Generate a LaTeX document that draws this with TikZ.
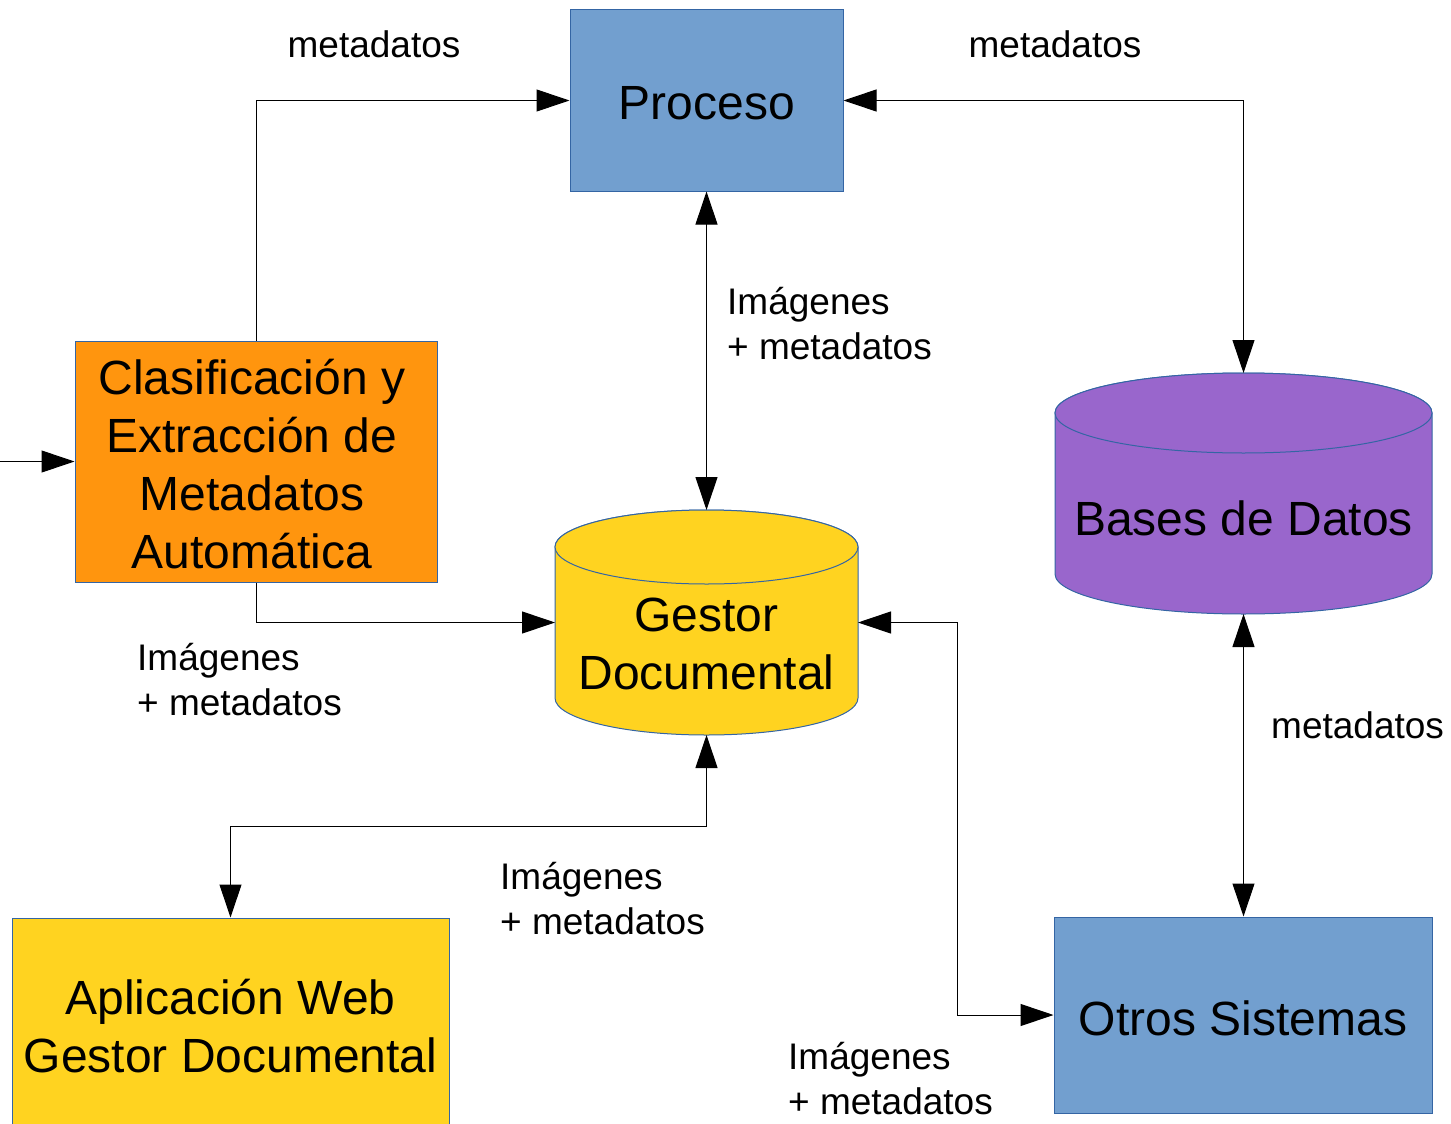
\documentclass[tikz,border=0pt]{standalone}
\usepackage{fontspec}
\setmainfont{Liberation Sans}
\usetikzlibrary{arrows.meta}
\definecolor{boxblue}{HTML}{729FCF}
\definecolor{boxedge}{HTML}{3465A4}
\definecolor{boxorange}{HTML}{FF950E}
\definecolor{boxyellow}{HTML}{FFD320}
\definecolor{boxpurple}{HTML}{9966CC}
\begin{document}
\begin{tikzpicture}[x=1pt,y=-1pt,
  box/.style={draw=boxedge, line width=1pt, inner sep=0pt, align=center,
    font=\fontsize{48}{58}\selectfont},
  ghost/.style={inner sep=0pt, outer sep=0pt},
  bigtext/.style={inner sep=0pt, align=center, font=\fontsize{48}{58}\selectfont},
  lbl/.style={inner sep=0pt, align=left, font=\fontsize{37}{45}\selectfont},
  conn/.style={line width=1pt, draw=black},
  onetip/.style={-{Triangle[length=33pt,width=22pt]}},
  twotips/.style={{Triangle[length=33pt,width=22pt]}-{Triangle[length=33pt,width=22pt]}},
  cyl/.style={draw=boxedge, line width=1pt}
]
\useasboundingbox (0,0) rectangle (1451,1124);
\clip (0,0) rectangle (1451,1124);

% Boxes
\node[box, fill=boxblue, minimum width=273pt, minimum height=181pt] (proceso) at (706.5,100.5) {};
\node[bigtext] (procesotxt) at (707,103) {Proceso};
\node[box, fill=boxorange, minimum width=362pt, minimum height=241pt] (clasif) at (256,461.5) {};
\node[bigtext] (clasiftxt) at (252,464.5) {Clasificación y\\Extracción de\\Metadatos\\Automática};
\node[box, fill=boxyellow, minimum width=437pt, minimum height=216pt] (aplic) at (230.5,1026) {Aplicación Web\\Gestor Documental};
\node[box, fill=boxblue, minimum width=378pt, minimum height=196pt] (otros) at (1243,1015) {};
\node[bigtext] (otrostxt) at (1243,1018) {Otros Sistemas};

% Gestor Documental cylinder
\node[ghost, minimum width=303pt, minimum height=225pt] (gestor) at (706.5,622.5) {};
\path[cyl, fill=boxyellow] (555,547) -- (555,698) arc (180:0:151.5 and 37) -- (858,547) arc (0:-180:151.5 and 37) -- cycle;
\path[cyl, fill=boxyellow] (706.5,547) ellipse (151.5 and 37);
\node[bigtext] (gestortxt) at (706.5,644) {Gestor\\Documental};

% Bases de Datos cylinder
\node[ghost, minimum width=377pt, minimum height=241pt] (bases) at (1243.5,493.5) {};
\path[cyl, fill=boxpurple] (1055,413) -- (1055,574) arc (180:0:188.5 and 40) -- (1432,413) arc (0:-180:188.5 and 40) -- cycle;
\path[cyl, fill=boxpurple] (1243.5,413) ellipse (188.5 and 40);
\node[bigtext] (basestxt) at (1243.5,518) {Bases de Datos};

% Helper coordinates
\coordinate (inp) at (0,461.5);
\coordinate (g1) at (706.5,826);
\coordinate (g2) at (957,622.5);

% Connectors
\draw[conn, onetip] (clasif.north) |- (proceso.west);
\draw[conn, twotips] (proceso.east) -| (bases.north);
\draw[conn, twotips] (proceso.south) -- (gestor.north);
\draw[conn, onetip] (clasif.south) |- (gestor.west);
\draw[conn, onetip] (inp) -- (clasif.west);
\draw[conn, twotips] (gestor.south) -- (g1) -| (aplic.north);
\draw[conn, twotips] (gestor.east) -- (g2) |- (otros.west);
\draw[conn, twotips] (bases.south) -- (bases.south |- otros.north);

% Labels
\node[lbl] (l1) at (374,44) {metadatos};
\node[lbl] (l2) at (1055,44) {metadatos};
\node[lbl, anchor=west] (l3) at (727,324) {Imágenes\\+ metadatos};
\node[lbl, anchor=west] (l4) at (137,680) {Imágenes\\+ metadatos};
\node[lbl, anchor=west] (l5) at (500,899) {Imágenes\\+ metadatos};
\node[lbl, anchor=west] (l6) at (788,1079) {Imágenes\\+ metadatos};
\node[lbl, anchor=west] (l7) at (1271,725) {metadatos};
\end{tikzpicture}
\end{document}
